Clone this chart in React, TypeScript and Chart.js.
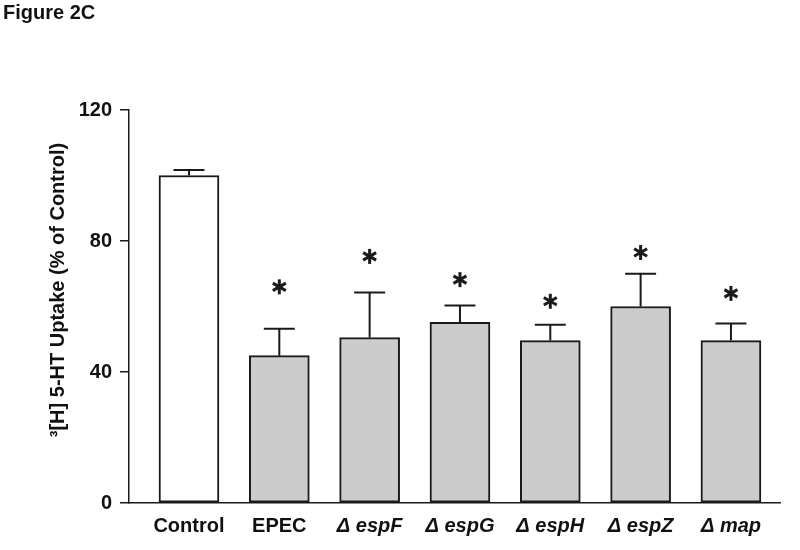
import React, { useEffect, useRef } from 'react';
import { Chart, registerables } from 'chart.js';

Chart.register(...registerables);

const categories = ['Control', 'EPEC', 'Δ espF', 'Δ espG', 'Δ espH', 'Δ espZ', 'Δ map'];
const means = [100, 45, 50.5, 55.2, 49.6, 60.0, 49.6];
const errorTops = [101.7, 53.2, 64.3, 60.3, 54.4, 70.0, 54.8];
const asteriskLevels: (number | null)[] = [null, 66, 75.3, 68.2, 61.6, 76.5, 64];
const yTicks = [0, 40, 80, 120];
const figureTitle = 'Figure 2C';
const yAxisTitle = '³[H] 5-HT Uptake (% of Control)';

const FONT = '"Liberation Sans", Arial, Helvetica, sans-serif';
const INK = '#1a1a1a';

const overlayPlugin = {
  id: 'overlay',
  afterDatasetsDraw(chart: any) {
    const { ctx, scales } = chart;
    const x = scales.x;
    const y = scales.y;
    ctx.save();
    ctx.strokeStyle = INK;
    ctx.lineWidth = 2;
    ctx.lineCap = 'butt';
    means.forEach((m, i) => {
      const px = x.getPixelForValue(i);
      const yTop = y.getPixelForValue(m);
      const yErr = y.getPixelForValue(errorTops[i]);
      ctx.beginPath();
      ctx.moveTo(px, yTop);
      ctx.lineTo(px, yErr);
      ctx.moveTo(px - 15.5, yErr);
      ctx.lineTo(px + 15.5, yErr);
      ctx.stroke();
    });
    ctx.lineWidth = 3;
    asteriskLevels.forEach((a, i) => {
      if (a == null) return;
      const px = x.getPixelForValue(i);
      const py = y.getPixelForValue(a);
      const r = 7.5;
      for (let k = 0; k < 3; k++) {
        const ang = Math.PI / 2 + (k * Math.PI) / 3;
        ctx.beginPath();
        ctx.moveTo(px - r * Math.cos(ang), py - r * Math.sin(ang));
        ctx.lineTo(px + r * Math.cos(ang), py + r * Math.sin(ang));
        ctx.stroke();
      }
    });
    ctx.fillStyle = '#111';
    ctx.font = `bold 20px ${FONT}`;
    ctx.textAlign = 'left';
    ctx.textBaseline = 'alphabetic';
    ctx.fillText(figureTitle, 3, 19);
    // y-axis title
    ctx.save();
    ctx.translate(58, 290);
    ctx.rotate(-Math.PI / 2);
    ctx.textAlign = 'center';
    ctx.textBaseline = 'middle';
    ctx.fillText(yAxisTitle, 0, 0);
    ctx.restore();
    ctx.restore();
  },
};

export default function App() {
  const canvasRef = useRef<HTMLCanvasElement | null>(null);

  useEffect(() => {
    if (!canvasRef.current) return;
    const chart = new Chart(canvasRef.current, {
      type: 'bar',
      data: {
        datasets: [
          {
            data: means.map((v, i) => ({ x: i, y: v })),
            backgroundColor: (c: any) => (c.dataIndex === 0 ? '#ffffff' : '#cccccc'),
            borderColor: INK,
            borderWidth: 2,
            borderSkipped: false,
            barThickness: 60,
          },
        ],
      },
      options: {
        animation: false,
        responsive: false,
        events: [],
        layout: { padding: { top: 110, right: 20, left: 0, bottom: 0 } },
        plugins: {
          legend: { display: false },
          tooltip: { enabled: false },
          title: { display: false },
        },
        scales: {
          x: {
            type: 'linear',
            offset: false,
            min: -0.664,
            max: categories.length - 1 + 0.543,
            afterBuildTicks: (scale: any) => {
              scale.ticks = categories.map((_, i) => ({ value: i }));
            },
            afterFit: (scale: any) => {
              scale.height = 47;
            },
            grid: { display: false, drawTicks: false },
            border: { display: true, color: INK, width: 1.5 },
            ticks: {
              padding: 11,
              color: '#111',
              maxRotation: 0,
              autoSkip: false,
              callback: (v: any) => categories[v] ?? '',
              font: (c: any) => ({
                family: FONT,
                size: 20,
                weight: 'bold',
                style: c.index >= 2 ? 'italic' : 'normal',
              }),
            },
          },
          y: {
            min: 0,
            max: 120,
            afterBuildTicks: (scale: any) => {
              scale.ticks = yTicks.map((v) => ({ value: v }));
            },
            afterFit: (scale: any) => {
              scale.width = 129;
            },
            grid: {
              display: true,
              drawOnChartArea: false,
              drawTicks: true,
              tickLength: 9,
              color: INK,
              lineWidth: 1.5,
            },
            border: { display: true, color: INK, width: 1.5 },
            ticks: {
              padding: 8,
              color: '#111',
              font: { family: FONT, size: 20, weight: 'bold' },
            },
          },
        },
      },
      plugins: [overlayPlugin],
    } as any);
    return () => chart.destroy();
  }, []);

  return (
    <div style={{ position: 'absolute', left: 0, top: 0, width: 800, height: 550, background: '#fff' }}>
      <canvas ref={canvasRef} width={800} height={550} />
    </div>
  );
}
